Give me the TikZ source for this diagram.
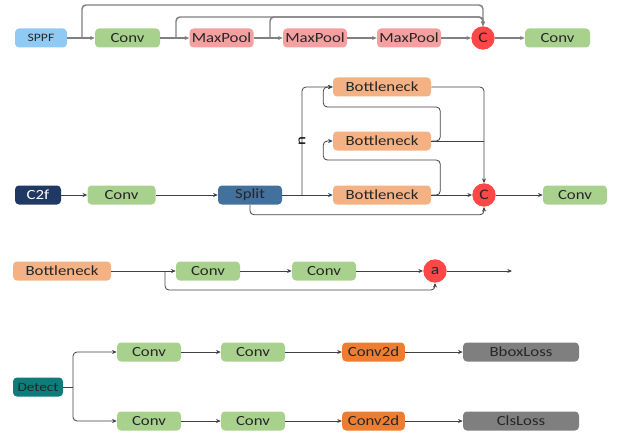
\documentclass[tikz,border=0pt]{standalone}
\usepackage{fontspec}
\setmainfont{Carlito}[FakeStretch=1.2]
\usetikzlibrary{arrows.meta}
\definecolor{sppfblue}{HTML}{8FCAF5}
\definecolor{convgreen}{HTML}{A9D18E}
\definecolor{poolpink}{HTML}{F5A0A0}
\definecolor{catred}{HTML}{FF4747}
\definecolor{c2fnavy}{HTML}{203864}
\definecolor{splitblue}{HTML}{41719C}
\definecolor{bnorange}{HTML}{F4B183}
\definecolor{c2dorange}{HTML}{ED7D31}
\definecolor{lossgray}{HTML}{7F7F7F}
\definecolor{detteal}{HTML}{0E7C7B}
\begin{document}
\begin{tikzpicture}[x=0.75pt, y=-0.75pt, every node/.style={font=\fontsize{10.5}{12}\selectfont},
  blk/.style={rounded corners=3pt,minimum height=14.25pt,inner sep=0pt,text=black!85},
  cat/.style={circle,fill=catred,minimum size=17.5pt,inner sep=0pt,text=black!85,font=\fontsize{11}{12}\selectfont},
  ln/.style={draw=black!75,line width=0.6pt,rounded corners=3pt},
  ar/.style={ln,-{Stealth[length=3.5pt,width=3pt]}},
  gln/.style={draw=black!50,line width=1.1pt,rounded corners=3pt},
  gar/.style={gln,-{Stealth[length=3.5pt,width=3pt]}}]
\useasboundingbox (0,0) rectangle (621,435);
% SPPF
\node[blk,fill=sppfblue,minimum width=39pt,font=\fontsize{8.5}{10}\selectfont] (sppf) at (41,38) {SPPF};
\node[blk,fill=convgreen,minimum width=48.75pt] (conv1) at (127.5,38) {Conv};
\node[blk,fill=poolpink,minimum width=48pt] (pool1) at (221.5,38) {MaxPool};
\node[blk,fill=poolpink,minimum width=48pt] (pool2) at (315,38) {MaxPool};
\node[blk,fill=poolpink,minimum width=48pt] (pool3) at (409,38) {MaxPool};
\node[cat] (cat1) at (483,38) {C};
\node[blk,fill=convgreen,minimum width=48.75pt] (conv2) at (557.5,38) {Conv};
\draw[gar] (sppf) -- (conv1); \draw[gar] (conv1) -- (pool1); \draw[gar] (pool1) -- (pool2);
\draw[gar] (pool2) -- (pool3); \draw[gar] (pool3) -- (cat1); \draw[gar] (cat1) -- (conv2);
\coordinate (sb1) at (82,38); \coordinate (sb2) at (176,38); \coordinate (sb3) at (270,38);
\draw[gar] (sb1) -- ++(0,-33) -| (cat1); \draw[gar] (sb2) -- ++(0,-21) -| (cat1); \draw[gar] (sb3) -- ++(0,-21) -| (cat1);
% C2f
\node[blk,fill=c2fnavy,minimum width=34.5pt,text=white] (c2f) at (38,195) {C2f};
\node[blk,fill=convgreen,minimum width=51pt] (conv3) at (121.5,195) {Conv};
\node[blk,fill=splitblue,minimum width=48pt] (split) at (250,195) {Split};
\node[blk,fill=bnorange,minimum width=73.5pt] (bn1) at (382,87) {Bottleneck};
\node[blk,fill=bnorange,minimum width=73.5pt] (bn2) at (382,141) {Bottleneck};
\node[blk,fill=bnorange,minimum width=73.5pt] (bn3) at (382,195) {Bottleneck};
\node[cat] (cat2) at (484,195) {C};
\node[blk,fill=convgreen,minimum width=48pt] (conv4) at (575,195) {Conv};
\draw[ar] (c2f) -- (conv3); \draw[ar] (conv3) -- (split); \draw[ar] (split) -- (bn3);
\draw[ar] (bn3) -- (cat2); \draw[ar] (cat2) -- (conv4);
\coordinate (sp) at (302,195);
\draw[ar] (sp) |- (bn1); \node[rotate=90,inner sep=0pt] (nlab) at (302,141) {n};
\draw[ar] (bn1) -| (cat2); \draw[ln] (bn2.east) -- (bn2.east -| cat2);
\draw[ar] (bn2.east) -- ++(9,0) |- ++(-117,-34) |- (bn1.west);
\draw[ar] (bn3.east) -- ++(9,0) |- ++(-117,-35) |- (bn2.west);
\draw[ar] (split.south) -- ++(0,10) -| (cat2);
% Bottleneck
\node[blk,fill=bnorange,minimum width=73.5pt] (bn4) at (62,271) {Bottleneck};
\node[blk,fill=convgreen,minimum width=48pt] (conv5) at (208,271) {Conv};
\node[blk,fill=convgreen,minimum width=48pt] (conv6) at (324,271) {Conv};
\node[cat] (add) at (435,271) {a};
\coordinate (out) at (512,271); \coordinate (rb) at (165,271);
\draw[ar] (bn4) -- (conv5); \draw[ar] (conv5) -- (conv6); \draw[ar] (conv6) -- (add); \draw[ar] (add) -- (out);
\draw[ar] (rb) -- ++(0,19) -| (add);
% Detect
\node[blk,fill=detteal,minimum width=37.5pt,font=\fontsize{9.5}{11}\selectfont] (det) at (38,387) {Detect};
\node[blk,fill=convgreen,minimum width=48pt] (conv7) at (149,352) {Conv};
\node[blk,fill=convgreen,minimum width=48pt] (conv8) at (253,352) {Conv};
\node[blk,fill=c2dorange,minimum width=47pt] (c2d1) at (373.5,352) {Conv2d};
\node[blk,fill=lossgray,minimum width=87pt] (bbox) at (521,352) {BboxLoss};
\node[blk,fill=convgreen,minimum width=48pt] (conv9) at (149,421) {Conv};
\node[blk,fill=convgreen,minimum width=48pt] (conv10) at (253,421) {Conv};
\node[blk,fill=c2dorange,minimum width=47pt] (c2d2) at (373.5,421) {Conv2d};
\node[blk,fill=lossgray,minimum width=87pt] (cls) at (521,421) {ClsLoss};
\coordinate (db) at (73,387);
\draw[ln] (det) -- (db); \draw[ar] (db) |- (conv7); \draw[ar] (db) |- (conv9);
\draw[ar] (conv7) -- (conv8); \draw[ar] (conv8) -- (c2d1); \draw[ar] (c2d1) -- (bbox);
\draw[ar] (conv9) -- (conv10); \draw[ar] (conv10) -- (c2d2); \draw[ar] (c2d2) -- (cls);
\end{tikzpicture}
\end{document}
